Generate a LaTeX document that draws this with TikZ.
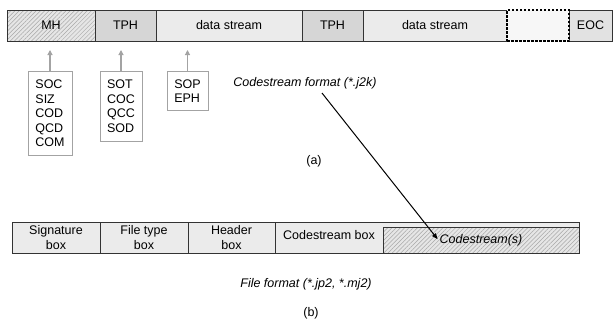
\documentclass[tikz,border=0pt]{standalone}
\usepackage{fontspec}
\setmainfont{Liberation Sans}
\usetikzlibrary{arrows.meta,patterns.meta}
\usepackage{xcolor}

\definecolor{lineclr}{HTML}{333333}
\definecolor{boxline}{HTML}{A3A3A3}
\definecolor{segdark}{HTML}{D6D6D6}
\definecolor{segmid}{HTML}{E2E2E2}
\definecolor{seglight}{HTML}{EBEBEB}
\definecolor{segpale}{HTML}{F7F7F7}
\definecolor{hatchbg}{HTML}{E6E6E6}
\definecolor{hatchln}{HTML}{A8A8A8}
\newcommand{\diagfont}{\fontsize{12.5}{14.5}\selectfont}

\begin{document}
\begin{tikzpicture}[
    x=1pt, y=-1pt,
    seg/.style={draw=lineclr, line width=0.9pt, minimum height=31pt, inner sep=0pt, outer sep=0pt, font=\diagfont},
    hatched/.style={preaction={fill=hatchbg}, pattern={Lines[angle=45,distance=3pt,line width=0.5pt]}, pattern color=hatchln},
    marker/.style={draw=boxline, fill=white, line width=0.8pt, align=left, inner sep=0pt, anchor=north, font=\diagfont},
    fbox/.style={draw=lineclr, fill=seglight, line width=0.8pt, minimum height=31pt, inner sep=0pt, outer sep=0pt, align=center, font=\fontsize{12.5}{14.5}\selectfont},
    uparrow/.style={-{Triangle[length=5pt,width=5pt]}, draw=boxline, line width=1.1pt, shorten >=9pt},
    pointer/.style={-{Triangle[length=6pt,width=4.5pt]}, draw=black, line width=1pt},
    caption/.style={font=\diagfont, inner sep=1pt},
]
\useasboundingbox (0,0) rectangle (613,327);
% codestream (top bar)
\node[seg, hatched, minimum width=88pt] (mh) at (51,25.5) {MH};
\node[seg, fill=segdark, minimum width=61pt] (tph1) at (125.5,25.5) {TPH};
\node[seg, fill=seglight, minimum width=146pt] (data1) at (229,25.5) {data stream};
\node[seg, fill=segdark, minimum width=61pt] (tph2) at (332.5,25.5) {TPH};
\node[seg, fill=seglight, minimum width=144pt] (data2) at (435,25.5) {data stream};
\node[seg, fill=segmid, minimum width=43pt] (eoc) at (590.5,25.5) {EOC};
\node[seg, fill=segpale, minimum width=62pt, preaction={draw=segpale, line width=1.8pt}, draw=black, line width=1.2pt, dash pattern=on 2.5pt off 1.5pt] (more) at (538,25.5) {};
% marker segments
\node[marker, minimum width=44pt, minimum height=84pt] (mhmk) at (50,71) {SOC\\SIZ\\COD\\QCD\\COM};
\node[marker, minimum width=42pt, minimum height=70pt] (tphmk) at (121,71) {SOT\\COC\\QCC\\SOD};
\node[marker, minimum width=41pt, minimum height=39pt] (datamk) at (187.5,71) {SOP\\EPH};
\draw[uparrow] (mhmk.north) -- (mhmk.north |- mh.south);
\draw[uparrow] (tphmk.north) -- (tphmk.north |- tph1.south);
\draw[uparrow] (datamk.north) -- (datamk.north |- data1.south);
\node[caption, font=\diagfont\itshape] (j2k) at (305,83) {Codestream format (*.j2k)};
\node[caption] (capa) at (314,161) {(a)};
% file format (bottom bar)
\node[fbox, minimum width=88pt] (sig) at (56,237.5) {Signature\\box};
\node[fbox, minimum width=88pt] (ftyp) at (144,237.5) {File type\\box};
\node[fbox, minimum width=87pt] (hdr) at (231.5,237.5) {Header\\box};
\node[fbox, minimum width=304pt] (csbox) at (427,237.5) {};
\node[caption] (cslbl) at (329,235) {Codestream box};
\node[draw=lineclr, line width=0.8pt, hatched, minimum width=196pt, minimum height=26pt, inner sep=0pt, font=\diagfont\itshape] (cs) at (481,240) {Codestream(s)};
\draw[pointer] ([xshift=17pt,yshift=-3pt]j2k.south) -- ([xshift=-2pt,yshift=4pt]cs.text);
\node[caption, font=\diagfont\itshape] (jp2) at (306,284) {File format (*.jp2, *.mj2)};
\node[caption] (capb) at (311,313) {(b)};
\end{tikzpicture}
\end{document}
